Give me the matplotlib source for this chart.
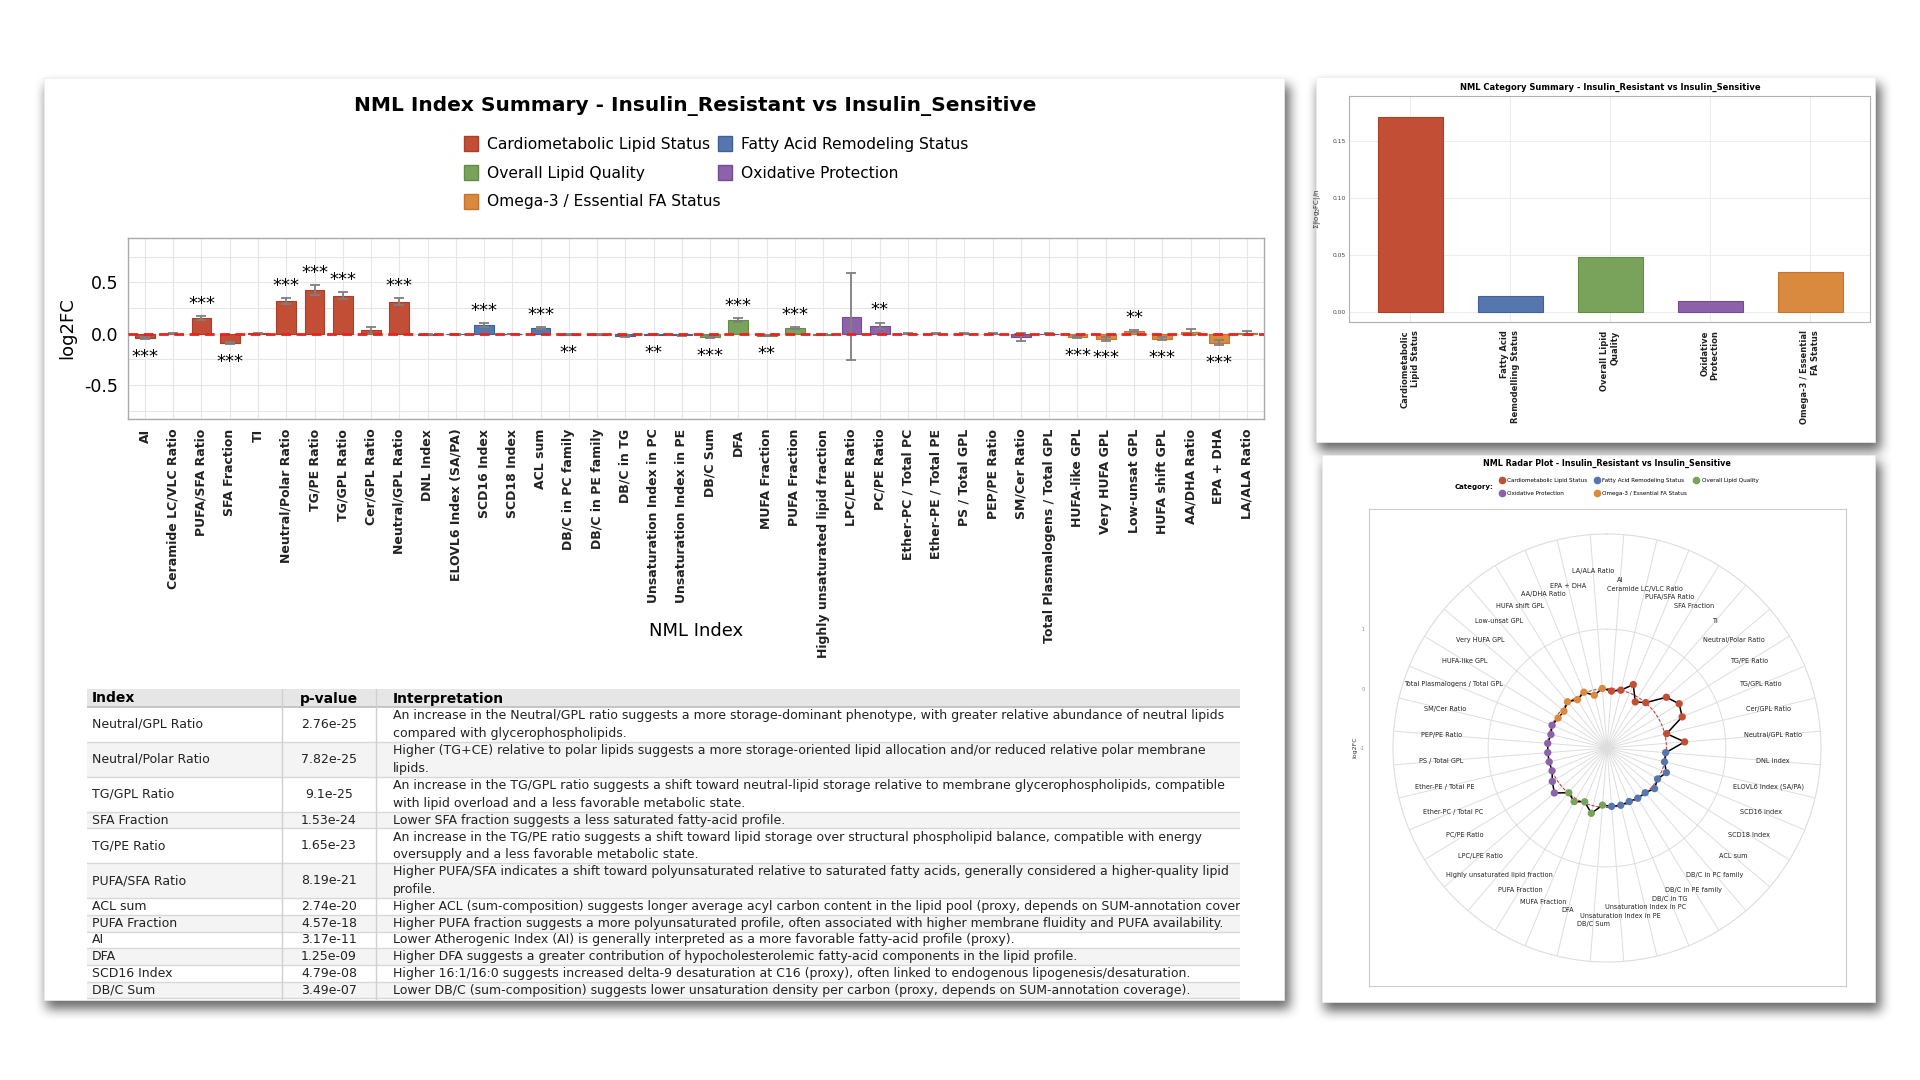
import numpy as np
import matplotlib
matplotlib.use('Agg')
import matplotlib.pyplot as plt
from matplotlib.patches import Rectangle, Patch
from matplotlib.lines import Line2D

W, H = 1920, 1080

# ---- data -------------------------------------------------------------
indices = ['AI', 'Ceramide LC/VLC Ratio', 'PUFA/SFA Ratio', 'SFA Fraction', 'TI',
           'Neutral/Polar Ratio', 'TG/PE Ratio', 'TG/GPL Ratio', 'Cer/GPL Ratio',
           'Neutral/GPL Ratio', 'DNL Index', 'ELOVL6 Index (SA/PA)', 'SCD16 Index',
           'SCD18 Index', 'ACL sum', 'DB/C in PC family', 'DB/C in PE family',
           'DB/C in TG', 'Unsaturation Index in PC', 'Unsaturation Index in PE',
           'DB/C Sum', 'DFA', 'MUFA Fraction', 'PUFA Fraction',
           'Highly unsaturated lipid fraction', 'LPC/LPE Ratio', 'PC/PE Ratio',
           'Ether-PC / Total PC', 'Ether-PE / Total PE', 'PS / Total GPL',
           'PEP/PE Ratio', 'SM/Cer Ratio', 'Total Plasmalogens / Total GPL',
           'HUFA-like GPL', 'Very HUFA GPL', 'Low-unsat GPL', 'HUFA shift GPL',
           'AA/DHA Ratio', 'EPA + DHA', 'LA/ALA Ratio']
index_cat = [0] * 10 + [1] * 10 + [2] * 5 + [3] * 8 + [4] * 7
log2fc = [-0.04, 0.0, 0.155, -0.09, 0.004, 0.314, 0.424, 0.369, 0.032, 0.31,
          -0.01, -0.005, 0.081, -0.003, 0.052, -0.01, -0.01, -0.025, -0.01, -0.015,
          -0.036, 0.13, -0.02, 0.058, -0.01,
          0.165, 0.078, 0.0, 0.0, 0.0, 0.0, -0.03, 0.0,
          -0.035, -0.048, 0.023, -0.048, 0.016, -0.087, 0.005]
log2fc_err = [0.01, 0.003, 0.018, 0.012, 0.004, 0.03, 0.045, 0.035, 0.035, 0.032,
              0.006, 0.004, 0.018, 0.004, 0.008, 0.006, 0.006, 0.01, 0.005, 0.006,
              0.01, 0.02, 0.006, 0.008, 0.006,
              0.42, 0.03, 0.002, 0.002, 0.002, 0.002, 0.04, 0.002,
              0.01, 0.02, 0.008, 0.015, 0.028, 0.025, 0.018]
stars = ['***', '', '***', '***', '', '***', '***', '***', '', '***',
         '', '', '***', '', '***', '**', '', '', '**', '',
         '***', '***', '**', '***', '',
         '', '**', '', '', '', '', '', '',
         '***', '***', '**', '***', '', '***', '']

cat_names = ['Cardiometabolic Lipid Status', 'Fatty Acid Remodeling Status',
             'Overall Lipid Quality', 'Oxidative Protection',
             'Omega-3 / Essential FA Status']
cat_colors = ['#C24F35', '#5577AD', '#79A35B', '#8C63AA', '#D98A3E']
cat_edges = ['#A83F28', '#40609A', '#628C47', '#734D92', '#C27530']
cat_labels = ['Cardiometabolic\nLipid Status', 'Fatty Acid\nRemodelling Status',
              'Overall Lipid\nQuality', 'Oxidative\nProtection',
              'Omega-3 / Essential\nFA Status']
cat_scores = [0.171, 0.014, 0.048, 0.0096, 0.035]

tab_index = ['Neutral/GPL Ratio', 'Neutral/Polar Ratio', 'TG/GPL Ratio', 'SFA Fraction',
             'TG/PE Ratio', 'PUFA/SFA Ratio', 'ACL sum', 'PUFA Fraction', 'AI', 'DFA',
             'SCD16 Index', 'DB/C Sum']
tab_p = ['2.76e-25', '7.82e-25', '9.1e-25', '1.53e-24', '1.65e-23', '8.19e-21',
         '2.74e-20', '4.57e-18', '3.17e-11', '1.25e-09', '4.79e-08', '3.49e-07']
tab_text = [
    'An increase in the Neutral/GPL ratio suggests a more storage-dominant phenotype, with greater relative abundance of neutral lipids\ncompared with glycerophospholipids.',
    'Higher (TG+CE) relative to polar lipids suggests a more storage-oriented lipid allocation and/or reduced relative polar membrane\nlipids.',
    'An increase in the TG/GPL ratio suggests a shift toward neutral-lipid storage relative to membrane glycerophospholipids, compatible\nwith lipid overload and a less favorable metabolic state.',
    'Lower SFA fraction suggests a less saturated fatty-acid profile.',
    'An increase in the TG/PE ratio suggests a shift toward lipid storage over structural phospholipid balance, compatible with energy\noversupply and a less favorable metabolic state.',
    'Higher PUFA/SFA indicates a shift toward polyunsaturated relative to saturated fatty acids, generally considered a higher-quality lipid\nprofile.',
    'Higher ACL (sum-composition) suggests longer average acyl carbon content in the lipid pool (proxy, depends on SUM-annotation coverage).',
    'Higher PUFA fraction suggests a more polyunsaturated profile, often associated with higher membrane fluidity and PUFA availability.',
    'Lower Atherogenic Index (AI) is generally interpreted as a more favorable fatty-acid profile (proxy).',
    'Higher DFA suggests a greater contribution of hypocholesterolemic fatty-acid components in the lipid profile.',
    'Higher 16:1/16:0 suggests increased delta-9 desaturation at C16 (proxy), often linked to endogenous lipogenesis/desaturation.',
    'Lower DB/C (sum-composition) suggests lower unsaturation density per carbon (proxy, depends on SUM-annotation coverage).',
]

# card boxes in pixels (x0, y0, x1, y1)
cards = [(44, 78, 1284, 1000), (1316, 77, 1875, 442), (1322, 455, 1875, 1002)]
# radar labels nudged in/out so neighbours near the poles do not collide
label_push = {'LA/ALA Ratio': 0.18, 'AI': 0.04, 'Ceramide LC/VLC Ratio': -0.05,
              'PUFA/SFA Ratio': -0.05, 'DB/C Sum': 0.17, 'Unsaturation Index in PE': 0.04,
              'Unsaturation Index in PC': -0.05, 'DB/C in TG': -0.05}


def rect(x0, y0, x1, y1):
    return [x0 / W, 1 - y1 / H, (x1 - x0) / W, (y1 - y0) / H]


def blur(a, r):
    k = np.ones(2 * r + 1) / (2 * r + 1)
    for _ in range(2):
        a = np.apply_along_axis(lambda v: np.convolve(v, k, mode='same'), 1, a)
        a = np.apply_along_axis(lambda v: np.convolve(v, k, mode='same'), 0, a)
    return a


fig = plt.figure(figsize=(19.2, 10.8), dpi=100)
fig.patch.set_facecolor('white')

# ---- background: shadows + white cards -----------------------------------
bg = fig.add_axes([0, 0, 1, 1])
bg.set_xlim(0, W)
bg.set_ylim(H, 0)
bg.axis('off')
mask = np.zeros((H, W))
for x0, y0, x1, y1 in cards:
    mask[y0 + 7:y1 + 9, x0 + 2:x1 + 6] = 1
mask = blur(mask, 6)
shadow = np.zeros((H, W, 4))
shadow[..., :3] = 0.22
shadow[..., 3] = mask * 0.75
bg.imshow(shadow, extent=(0, W, H, 0), interpolation='bilinear', aspect='auto')
for x0, y0, x1, y1 in cards:
    bg.add_patch(Rectangle((x0, y0), x1 - x0, y1 - y0, fc='white', ec='#eeeeee', lw=0.5))

# ---- main bar chart ---------------------------------------------------
ax = fig.add_axes(rect(128, 238, 1264, 419))
x = np.arange(len(indices))
vals = np.array(log2fc)
errs = np.array(log2fc_err)
colors = [cat_colors[c] for c in index_cat]
edges = [cat_edges[c] for c in index_cat]
ax.bar(x, vals, width=0.7, color=colors, edgecolor=edges, linewidth=0.8, zorder=3)
ax.errorbar(x, vals, yerr=errs, fmt='none', ecolor='#7f7f7f', elinewidth=1.3,
            capsize=3.5, capthick=1.3, zorder=4)
ax.axhline(0, color='#E8221C', lw=2, dashes=(3.5, 2), zorder=5)
for i, s in enumerate(stars):
    if not s:
        continue
    if vals[i] >= 0:
        ax.text(i, vals[i] + errs[i] + 0.03, s, ha='center', va='bottom', fontsize=13, zorder=6)
    else:
        ax.text(i, vals[i] - errs[i] - 0.085, s, ha='center', va='top', fontsize=13, zorder=6)
ax.set_xlim(-0.6, 39.6)
ax.set_ylim(-0.83, 0.93)
ax.set_yticks([-0.5, 0.0, 0.5])
ax.set_yticklabels(['-0.5', '0.0', '0.5'], fontsize=12.5)
ax.set_yticks(np.arange(-0.75, 0.8, 0.25), minor=True)
ax.set_xticks(x)
ax.set_xticklabels(indices, rotation=90, fontsize=9, fontweight='bold', color='#222222')
ax.tick_params(length=0, pad=7)
ax.tick_params(axis='y', which='minor', length=0)
ax.grid(True, which='both', color='#e6e6e6', lw=0.8, zorder=0)
ax.set_axisbelow(True)
for sp in ax.spines.values():
    sp.set_color('#aaaaaa')
    sp.set_linewidth(1)
ax.set_xlabel('NML Index', fontsize=13, va='center')
ax.xaxis.set_label_coords(0.5, -(631 - 419) / (419 - 238))
ax.set_ylabel('log2FC', fontsize=13, labelpad=6)

fig.text(695 / W, 1 - 106 / H, 'NML Index Summary - Insulin_Resistant vs Insulin_Sensitive',
         ha='center', va='center', fontsize=14.5, fontweight='bold')
order = [0, 2, 4, 1, 3]
handles = [Patch(facecolor=cat_colors[k], edgecolor=cat_edges[k], label=cat_names[k]) for k in order]
fig.legend(handles=handles, loc='upper center', bbox_to_anchor=(716 / W, 1 - 122 / H), ncol=2,
           frameon=False, fontsize=11.2, handlelength=0.9, handleheight=1.1, columnspacing=-0.2,
           labelspacing=0.84, handletextpad=0.6)

# ---- table ------------------------------------------------------------
tx = fig.add_axes(rect(87, 689, 1240, 1000))
tw, th = 1240 - 87, 1000 - 689
tx.set_xlim(0, tw)
tx.set_ylim(th, 0)
tx.axis('off')
col_x = [0, 195, 289, tw]
tx.add_patch(Rectangle((0, 0), tw, 18, fc='#e6e6e6', ec='none'))
tx.text(5, 9.5, 'Index', fontsize=10, fontweight='bold', va='center')
tx.text(242, 9.5, 'p-value', fontsize=10, fontweight='bold', va='center', ha='center')
tx.text(306, 9.5, 'Interpretation', fontsize=10, fontweight='bold', va='center')
tx.plot([0, tw], [18, 18], color='#bdbdbd', lw=1.2)
yy = 18
for r, (name, p, txt) in enumerate(zip(tab_index, tab_p, tab_text)):
    n = txt.count('\n') + 1
    h = 18.2 * n - 1.5
    if r % 2 == 1:
        tx.add_patch(Rectangle((0, yy), tw, h, fc='#f4f4f4', ec='none', zorder=0))
    ym = yy + h / 2
    tx.text(5, ym, name, fontsize=9, va='center', color='#222222')
    tx.text(242, ym, p, fontsize=9, va='center', ha='center', color='#222222')
    tx.text(306, ym, txt, fontsize=9, va='center', linespacing=1.45, color='#222222',
            clip_on=True)
    yy += h
    tx.plot([0, tw], [yy, yy], color='#d8d8d8', lw=1)
for cx in col_x[1:3]:
    tx.plot([cx, cx], [0, th], color='#d0d0d0', lw=1)

# ---- category summary -------------------------------------------------
cx_ax = fig.add_axes(rect(1349, 96, 1870, 322))
xc = np.arange(len(cat_names))
cx_ax.bar(xc, cat_scores, width=0.65, color=cat_colors, edgecolor=cat_edges, lw=0.8, zorder=3)
cx_ax.set_xlim(-0.61, 4.6)
cx_ax.set_ylim(-0.009, 0.189)
cx_ax.set_yticks([0.0, 0.05, 0.10, 0.15])
cx_ax.set_yticklabels(['0.00', '0.05', '0.10', '0.15'], fontsize=4.3, color='#444444')
cx_ax.set_xticks(xc)
cx_ax.set_xticklabels(cat_labels, rotation=90, fontsize=6, fontweight='bold',
                      multialignment='right', color='#222222')
cx_ax.tick_params(length=0, pad=2)
cx_ax.tick_params(axis='x', pad=6)
cx_ax.grid(True, color='#ececec', lw=0.7, zorder=0)
cx_ax.set_axisbelow(True)
for sp in cx_ax.spines.values():
    sp.set_color('#b0b0b0')
    sp.set_linewidth(0.8)
cx_ax.set_ylabel(r'$\Sigma$|log$_2$FC|/n', fontsize=5, color='#333333')
cx_ax.yaxis.set_label_coords((1323 - 1349) / (1870 - 1349), 0.5)
fig.text(1610 / W, 1 - 87 / H, 'NML Category Summary - Insulin_Resistant vs Insulin_Sensitive',
         ha='center', va='center', fontsize=6, fontweight='bold')

# ---- radar ------------------------------------------------------------
fr = fig.add_axes(rect(1369, 509, 1846, 986))
fr.set_xticks([])
fr.set_ylim(-5.0, 3.02)
fr.set_yticks([-1, 0, 1])
fr.set_yticklabels(['-1', '0', '1'], fontsize=3.5, color='#888888')
fr.tick_params(length=0, pad=3)
fr.set_ylabel('log2FC', fontsize=4.5, labelpad=2, color='#333333')
for sp in fr.spines.values():
    sp.set_color('#cccccc')
    sp.set_linewidth(0.8)

pr = fig.add_axes(rect(1607 - 214, 748 - 214, 1607 + 214, 748 + 214), projection='polar')
pr.set_theta_zero_location('N')
pr.set_theta_direction(-1)
theta = (np.arange(len(indices)) + 0.5) * 2 * np.pi / len(indices)
pr.set_ylim(-1, 2.6)
pr.set_yticks([0, 1])
pr.set_yticklabels([])
pr.set_xticks(theta)
pr.set_xticklabels([])
pr.grid(True, color='#dddddd', lw=0.7)
pr.spines['polar'].set_color('#dddddd')
pr.spines['polar'].set_linewidth(0.8)
tt = np.linspace(0, 2 * np.pi, 361)
pr.plot(tt, np.zeros_like(tt), color='#E8221C', lw=0.7, dashes=(3, 2), zorder=3)
pr.plot(np.append(theta, theta[0]), np.append(vals, vals[0]), color='black', lw=1.1, zorder=4)
pr.scatter(theta, vals, s=28, c=colors, zorder=5, linewidths=0)
for t, name in zip(theta, indices):
    pr.text(t, 1.8 + label_push.get(name, 0), name, ha='center', va='center',
            fontsize=4.7, color='#222222')

fig.text(1607 / W, 1 - 463 / H, 'NML Radar Plot - Insulin_Resistant vs Insulin_Sensitive',
         ha='center', va='center', fontsize=5.8, fontweight='bold')
fig.text(1474 / W, 1 - 487 / H, 'Category:', ha='center', va='center', fontsize=5, fontweight='bold')
rorder = [0, 3, 1, 4, 2]
rhandles = [Line2D([], [], ls='none', marker='o', markersize=4.5, color=cat_colors[k],
                   label=cat_names[k]) for k in rorder]
fig.legend(handles=rhandles, loc='center left', bbox_to_anchor=(1496 / W, 1 - 487 / H), ncol=3,
           frameon=False, fontsize=4.1, handlelength=1.0, handletextpad=0.5,
           columnspacing=1.1, labelspacing=1.5, borderpad=0)

fig.savefig('out.png', dpi=100)
